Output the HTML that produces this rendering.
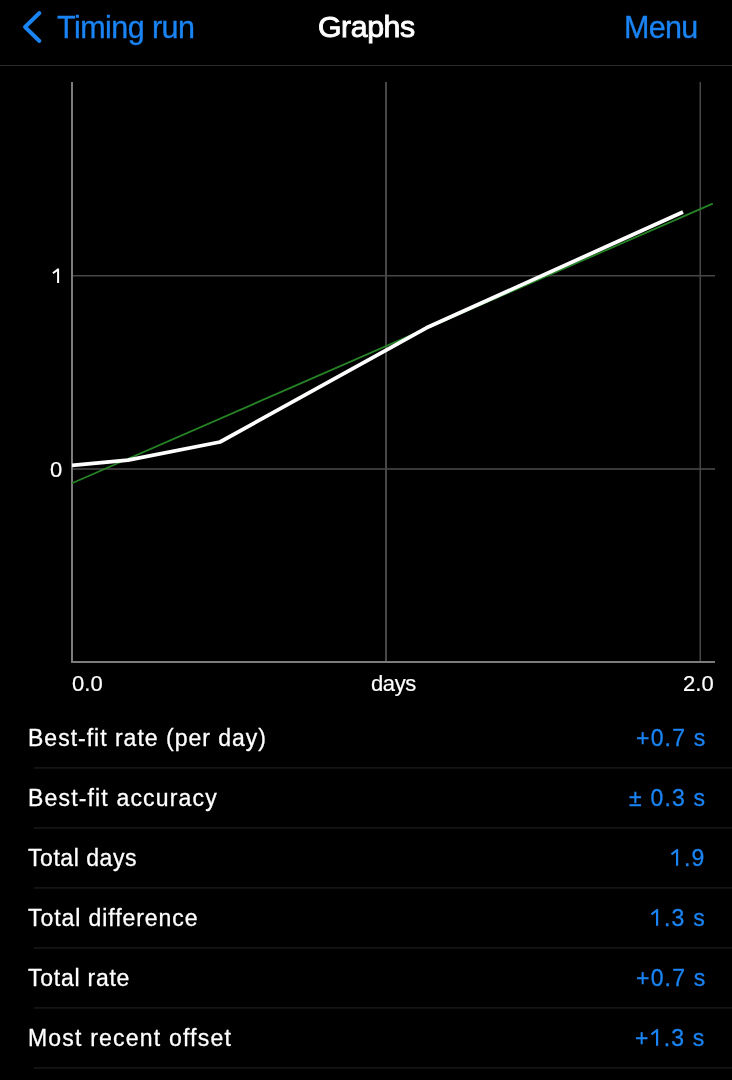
<!DOCTYPE html>
<html><head><meta charset="utf-8">
<style>
html,body{margin:0;padding:0;background:#000;width:732px;height:1080px;overflow:hidden;}
body{position:relative;font-family:"Liberation Sans",sans-serif;color:#fff;}
.t{position:absolute;white-space:nowrap;line-height:1;will-change:transform;}
.blue{color:#1a84f4;}
.nav{font-size:30.5px;letter-spacing:-0.55px;}
.nav.blue{-webkit-text-stroke:0.35px #1a84f4;}
.lbl{-webkit-text-stroke:0.3px #fff;font-size:23px;left:27.5px;letter-spacing:1px;}
.val{-webkit-text-stroke:0.3px #1a84f4;font-size:23px;right:26px;letter-spacing:1.2px;color:#1a84f4;text-align:right;}
.one{position:relative;color:transparent;-webkit-text-stroke-color:transparent;}
.one svg{position:absolute;left:0;top:0;overflow:visible;}
.ax{font-size:22px;-webkit-text-stroke:0.2px #fff;}
</style></head><body>
<svg style="position:absolute;left:0;top:0" width="732" height="1080">
  <!-- back chevron -->
  <path d="M39.4 13 L25 27 L39.4 41" fill="none" stroke="#1a84f4" stroke-width="3.9" stroke-linecap="round" stroke-linejoin="round"/>
  <!-- nav separator -->
  <rect x="0" y="65" width="732" height="1" fill="#2b2b2d"/>
  <!-- grid -->
  <rect x="385" y="82" width="2" height="580" fill="#474747"/>
  <rect x="699.5" y="82" width="1.5" height="580" fill="#474747"/>
  <rect x="72" y="275" width="643" height="1.5" fill="#474747"/>
  <rect x="72" y="468.2" width="643" height="1.6" fill="#474747"/>
  <!-- axes -->
  <rect x="71" y="82" width="2" height="581" fill="#7c7c7c"/>
  <rect x="71" y="661" width="644" height="2" fill="#7c7c7c"/>
  <!-- fit line -->
  <line x1="72" y1="483.3" x2="712.75" y2="203.6" stroke="#268426" stroke-width="1.8"/>
  <!-- data line -->
  <polyline points="72,465.3 128,460.2 220,442 426.5,327.8 683,212" fill="none" stroke="#fff" stroke-width="3.8" stroke-linejoin="round"/>
  <path d="M52.9 273.2 L58.1 269.4 L58.1 283" fill="none" stroke="#fff" stroke-width="2" stroke-linejoin="round" stroke-linecap="butt"/>
  <!-- table separators -->
  <g fill="#1a1a1c">
    <rect x="34" y="767.2" width="698" height="1.4"/>
    <rect x="34" y="827.2" width="698" height="1.4"/>
    <rect x="34" y="887.2" width="698" height="1.4"/>
    <rect x="34" y="947.2" width="698" height="1.4"/>
    <rect x="34" y="1007.2" width="698" height="1.4"/>
    <rect x="34" y="1067.2" width="698" height="1.4"/>
  </g>
</svg>
<div class="t nav blue" style="left:57.3px;top:11.6px;">Timing run</div>
<div class="t nav" style="left:318px;top:11.5px;letter-spacing:-0.45px;font-size:30.3px;-webkit-text-stroke:0.9px #fff;">Graphs</div>
<div class="t nav blue" style="left:623.8px;top:11.6px;letter-spacing:-0.7px;">Menu</div>

<div class="t ax" style="left:50px;top:459px;">0</div>
<div class="t ax" style="left:72px;top:672.5px;letter-spacing:0.1px;">0.0</div>
<div class="t ax" style="left:371px;top:672.5px;letter-spacing:-0.4px;">days</div>
<div class="t ax" style="left:683px;top:672.5px;letter-spacing:0.1px;">2.0</div>

<div class="t lbl" style="top:727.2px;">Best-fit rate (per day)</div>
<div class="t val" style="top:727.2px;">+0.7 s</div>
<div class="t lbl" style="top:787.2px;letter-spacing:1.17px;">Best-fit accuracy</div>
<div class="t val" style="top:787.2px;">± 0.3 s</div>
<div class="t lbl" style="top:847.2px;letter-spacing:0.55px;">Total days</div>
<div class="t val" style="top:847.2px;"><span class="one">1<svg width="14" height="26"><path d="M1.5 9.4 L7.1 5 L7.1 20.8" fill="none" stroke="#1a84f4" stroke-width="2.2" stroke-linejoin="round"/></svg></span>.9</div>
<div class="t lbl" style="top:907.2px;letter-spacing:0.93px;">Total difference</div>
<div class="t val" style="top:907.2px;"><span class="one">1<svg width="14" height="26"><path d="M1.5 9.4 L7.1 5 L7.1 20.8" fill="none" stroke="#1a84f4" stroke-width="2.2" stroke-linejoin="round"/></svg></span>.3 s</div>
<div class="t lbl" style="top:967.2px;letter-spacing:0.75px;">Total rate</div>
<div class="t val" style="top:967.2px;">+0.7 s</div>
<div class="t lbl" style="top:1027.2px;letter-spacing:1.2px;">Most recent offset</div>
<div class="t val" style="top:1027.2px;">+<span class="one">1<svg width="14" height="26"><path d="M1.5 9.4 L7.1 5 L7.1 20.8" fill="none" stroke="#1a84f4" stroke-width="2.2" stroke-linejoin="round"/></svg></span>.3 s</div>
</body></html>
